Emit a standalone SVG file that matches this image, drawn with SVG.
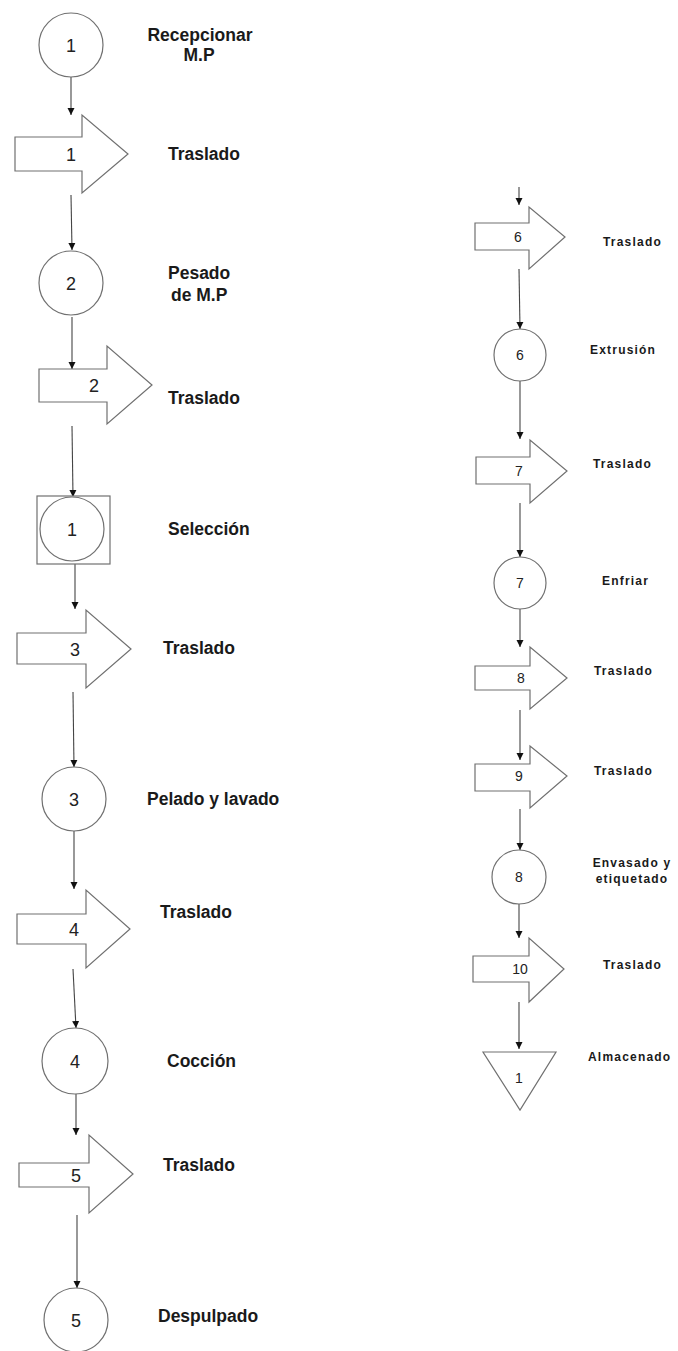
<svg xmlns="http://www.w3.org/2000/svg" width="678" height="1351" viewBox="0 0 678 1351">
  <style>
    .shape { fill: #ffffff; stroke: #707070; stroke-width: 1.2; }
    .link { fill: none; stroke: #444444; stroke-width: 1.1; marker-end: url(#head); }
    .num { font-family: "Liberation Sans", Arial, sans-serif; font-size: 18px; fill: #222222; text-anchor: middle; }
    .num-s { font-family: "Liberation Sans", Arial, sans-serif; font-size: 14px; fill: #222222; text-anchor: middle; }
    .lbl { font-family: "Liberation Sans", Arial, sans-serif; font-size: 17.5px; font-weight: bold; fill: #1a1a1a; }
    .lbl-s { font-family: "Liberation Sans", Arial, sans-serif; font-size: 12px; font-weight: bold; letter-spacing: 1.2px; fill: #1a1a1a; }
  </style>
  <defs>
    <marker id="head" markerWidth="8" markerHeight="8" refX="7" refY="4" orient="auto" markerUnits="userSpaceOnUse">
      <path d="M0,0.5 L7,4 L0,7.5 z" fill="#111111"/>
    </marker>
  </defs>
  <rect width="678" height="1351" fill="#ffffff"/>

  <!-- connectors -->
  <g id="connectors">
    <line class="link" x1="71" y1="77" x2="71" y2="115"/>
    <line class="link" x1="71" y1="195" x2="72" y2="250"/>
    <line class="link" x1="72" y1="317" x2="72" y2="369"/>
    <line class="link" x1="72" y1="426" x2="73" y2="497"/>
    <line class="link" x1="75" y1="564" x2="75" y2="609"/>
    <line class="link" x1="73" y1="692" x2="74" y2="767"/>
    <line class="link" x1="74" y1="831" x2="74" y2="889"/>
    <line class="link" x1="73" y1="969" x2="76" y2="1028"/>
    <line class="link" x1="76" y1="1094" x2="76" y2="1135"/>
    <line class="link" x1="77" y1="1215" x2="77" y2="1288"/>

    <line class="link" x1="519" y1="187" x2="519" y2="205"/>
    <line class="link" x1="519" y1="269" x2="520" y2="329"/>
    <line class="link" x1="520" y1="381" x2="520" y2="439"/>
    <line class="link" x1="520" y1="503" x2="520" y2="557"/>
    <line class="link" x1="520" y1="609" x2="520" y2="647"/>
    <line class="link" x1="520" y1="710" x2="520" y2="760"/>
    <line class="link" x1="520" y1="809" x2="520" y2="850"/>
    <line class="link" x1="519" y1="904" x2="519" y2="938"/>
    <line class="link" x1="519" y1="1002" x2="519" y2="1049"/>
  </g>

  <!-- left column -->
  <g id="op1">
    <circle class="shape" cx="71" cy="45" r="32"/>
    <text class="num" x="71" y="51.5">1</text>
    <text class="lbl" x="200" y="41" text-anchor="middle">Recepcionar</text>
    <text class="lbl" x="199" y="61" text-anchor="middle">M.P</text>
  </g>
  <g id="tr1">
    <polygon class="shape" points="15,137 82,137 82,115 128,154 82,193 82,171 15,171"/>
    <text class="num" x="71" y="160.5">1</text>
    <text class="lbl" x="168" y="160">Traslado</text>
  </g>
  <g id="op2">
    <circle class="shape" cx="71" cy="283" r="32"/>
    <text class="num" x="71" y="289.5">2</text>
    <text class="lbl" x="168" y="279">Pesado</text>
    <text class="lbl" x="171" y="301">de M.P</text>
  </g>
  <g id="tr2">
    <polygon class="shape" points="39,369 107,369 107,346 152,385 107,424 107,402 39,402"/>
    <text class="num" x="94" y="392">2</text>
    <text class="lbl" x="168" y="404">Traslado</text>
  </g>
  <g id="insp1">
    <rect class="shape" x="37" y="496" width="73" height="68"/>
    <circle class="shape" cx="72" cy="529" r="32"/>
    <text class="num" x="72" y="535.5">1</text>
    <text class="lbl" x="168" y="535">Selección</text>
  </g>
  <g id="tr3">
    <polygon class="shape" points="17,633 86,633 86,610 131,649 86,688 86,664 17,664"/>
    <text class="num" x="75" y="655.5">3</text>
    <text class="lbl" x="163" y="654">Traslado</text>
  </g>
  <g id="op3">
    <circle class="shape" cx="74" cy="799" r="32"/>
    <text class="num" x="74" y="805.5">3</text>
    <text class="lbl" x="147" y="805">Pelado y lavado</text>
  </g>
  <g id="tr4">
    <polygon class="shape" points="17,914 86,914 86,890 130,929 86,968 86,944 17,944"/>
    <text class="num" x="74" y="935.5">4</text>
    <text class="lbl" x="160" y="918">Traslado</text>
  </g>
  <g id="op4">
    <circle class="shape" cx="75" cy="1061" r="33"/>
    <text class="num" x="75" y="1067.5">4</text>
    <text class="lbl" x="167" y="1067">Cocción</text>
  </g>
  <g id="tr5">
    <polygon class="shape" points="19,1163 89,1163 89,1135 133,1174 89,1213 89,1187 19,1187"/>
    <text class="num" x="76" y="1181.5">5</text>
    <text class="lbl" x="163" y="1171">Traslado</text>
  </g>
  <g id="op5">
    <circle class="shape" cx="76" cy="1320" r="32"/>
    <text class="num" x="76" y="1326.5">5</text>
    <text class="lbl" x="158" y="1322">Despulpado</text>
  </g>

  <!-- right column -->
  <g id="tr6">
    <polygon class="shape" points="475,223 529,223 529,207 565,237 529,269 529,250 475,250"/>
    <text class="num-s" x="518" y="242">6</text>
    <text class="lbl-s" x="603" y="246">Traslado</text>
  </g>
  <g id="op6">
    <circle class="shape" cx="520" cy="355" r="26"/>
    <text class="num-s" x="520" y="360">6</text>
    <text class="lbl-s" x="590" y="354">Extrusión</text>
  </g>
  <g id="tr7">
    <polygon class="shape" points="476,457 530,457 530,440 567,471 530,503 530,484 476,484"/>
    <text class="num-s" x="519" y="476">7</text>
    <text class="lbl-s" x="593" y="468">Traslado</text>
  </g>
  <g id="op7">
    <circle class="shape" cx="520" cy="583" r="26"/>
    <text class="num-s" x="520" y="588">7</text>
    <text class="lbl-s" x="602" y="585">Enfriar</text>
  </g>
  <g id="tr8">
    <polygon class="shape" points="475,666 530,666 530,647 567,678 530,709 530,690 475,690"/>
    <text class="num-s" x="521" y="683">8</text>
    <text class="lbl-s" x="594" y="675">Traslado</text>
  </g>
  <g id="tr9">
    <polygon class="shape" points="475,764 530,764 530,746 567,776 530,808 530,791 475,791"/>
    <text class="num-s" x="519" y="781">9</text>
    <text class="lbl-s" x="594" y="775">Traslado</text>
  </g>
  <g id="op8">
    <circle class="shape" cx="519" cy="877" r="27"/>
    <text class="num-s" x="519" y="882">8</text>
    <text class="lbl-s" x="632" y="867" text-anchor="middle">Envasado y</text>
    <text class="lbl-s" x="632" y="883" text-anchor="middle">etiquetado</text>
  </g>
  <g id="tr10">
    <polygon class="shape" points="473,956 529,956 529,938 564,969 529,1002 529,982 473,982"/>
    <text class="num-s" x="520" y="974">10</text>
    <text class="lbl-s" x="603" y="969">Traslado</text>
  </g>
  <g id="store1">
    <polygon class="shape" points="483,1052 556,1052 520,1110"/>
    <text class="num-s" x="519" y="1083">1</text>
    <text class="lbl-s" x="588" y="1061">Almacenado</text>
  </g>
</svg>
